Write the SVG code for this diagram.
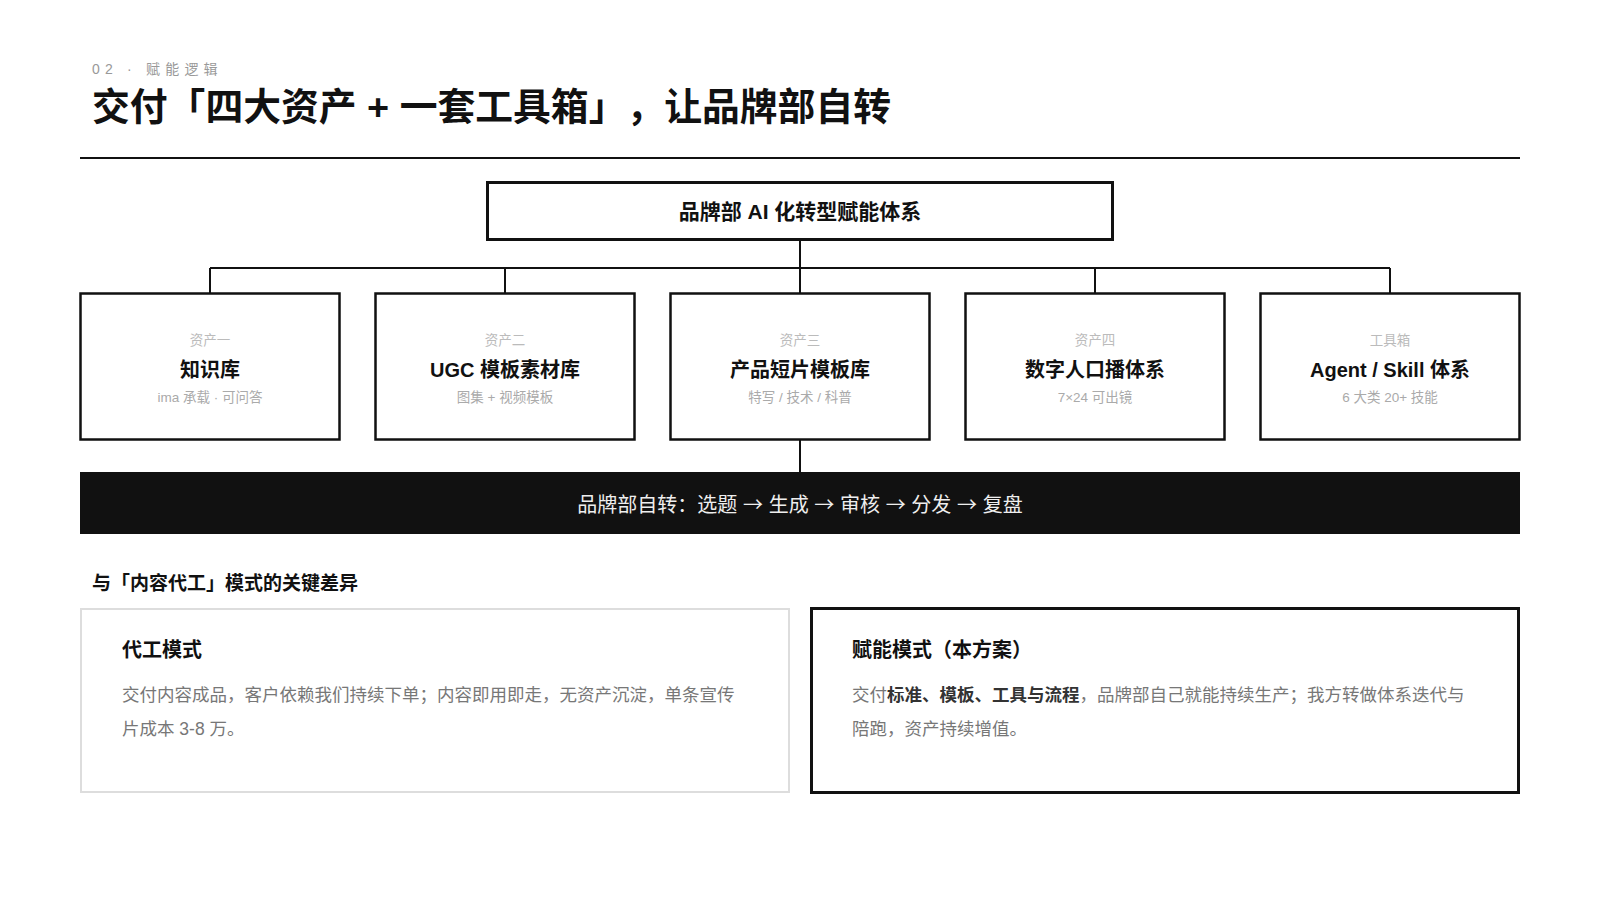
<svg xmlns="http://www.w3.org/2000/svg" width="1600" height="900" viewBox="0 0 1600 900">
<style>
text{font-family:"Liberation Sans","Noto Sans CJK SC",sans-serif;text-spacing-trim:space-all;}
.kicker{font-size:14px;fill:#999;letter-spacing:5.2px;}
.title{font-size:37.8px;font-weight:bold;fill:#111;}
.box{fill:#fff;stroke:#111;stroke-width:2.5;}
.lbl{font-size:13.5px;fill:#bbb;text-anchor:middle;}
.name{font-size:20px;font-weight:bold;fill:#111;text-anchor:middle;}
.sub{font-size:13.5px;fill:#aaa;text-anchor:middle;}
.conn{stroke:#111;stroke-width:2;fill:none;}
.h2{font-size:19px;font-weight:bold;fill:#111;}
.ct{font-size:20px;font-weight:bold;fill:#111;}
.body{font-size:17.5px;fill:#777;}
.b{font-weight:bold;fill:#333;}
</style>
<rect width="1600" height="900" fill="#fff"/>
<g id="header">
<text class="kicker" x="92" y="74">02 · 赋能逻辑</text>
<text class="title" x="92" y="120">交付「四大资产 + 一套工具箱」，让品牌部自转</text>
<line x1="80" y1="158" x2="1520" y2="158" stroke="#111" stroke-width="2"/>
</g>
<g id="connectors">
<path class="conn" d="M800 240V268M210 268H1390M210 268V293M505 268V293M800 268V293M1095 268V293M1390 268V293M800 440V472"/>
</g>
<g id="root">
<rect x="487.5" y="182.5" width="625" height="57" fill="#fff" stroke="#111" stroke-width="3"/>
<text x="800" y="219" font-size="21" font-weight="bold" fill="#111" text-anchor="middle">品牌部 AI 化转型赋能体系</text>
</g>
<g id="asset1">
<rect class="box" x="80.5" y="293.5" width="259" height="146"/>
<text class="lbl" x="210" y="345">资产一</text>
<text class="name" x="210" y="377">知识库</text>
<text class="sub" x="210" y="402">ima 承载 · 可问答</text>
</g>
<g id="asset2">
<rect class="box" x="375.5" y="293.5" width="259" height="146"/>
<text class="lbl" x="505" y="345">资产二</text>
<text class="name" x="505" y="377">UGC 模板素材库</text>
<text class="sub" x="505" y="402">图集 + 视频模板</text>
</g>
<g id="asset3">
<rect class="box" x="670.5" y="293.5" width="259" height="146"/>
<text class="lbl" x="800" y="345">资产三</text>
<text class="name" x="800" y="377">产品短片模板库</text>
<text class="sub" x="800" y="402">特写 / 技术 / 科普</text>
</g>
<g id="asset4">
<rect class="box" x="965.5" y="293.5" width="259" height="146"/>
<text class="lbl" x="1095" y="345">资产四</text>
<text class="name" x="1095" y="377">数字人口播体系</text>
<text class="sub" x="1095" y="402">7×24 可出镜</text>
</g>
<g id="toolbox">
<rect class="box" x="1260.5" y="293.5" width="259" height="146"/>
<text class="lbl" x="1390" y="345">工具箱</text>
<text class="name" x="1390" y="377">Agent / Skill 体系</text>
<text class="sub" x="1390" y="402">6 大类 20+ 技能</text>
</g>
<g id="loop">
<rect x="80" y="472" width="1440" height="62" fill="#111"/>
<text x="800" y="512" font-size="20" fill="#eee" text-anchor="middle" word-spacing="1.2" style="font-family:'Noto Sans CJK SC',sans-serif">品牌部自转：选题 → 生成 → 审核 → 分发 → 复盘</text>
</g>
<g id="compare-heading">
<text class="h2" x="92" y="590">与「内容代工」模式的关键差异</text>
</g>
<g id="card-daigong">
<rect x="81" y="609" width="708" height="183" fill="#fff" stroke="#ddd" stroke-width="2"/>
<text class="ct" x="122" y="657">代工模式</text>
<text class="body" x="122" y="701">交付内容成品，客户依赖我们持续下单；内容即用即走，无资产沉淀，单条宣传</text>
<text class="body" x="122" y="735">片成本 3-8 万。</text>
</g>
<g id="card-funeng">
<rect x="811.5" y="608.5" width="707" height="184" fill="#fff" stroke="#111" stroke-width="3"/>
<text class="ct" x="852" y="657">赋能模式（本方案）</text>
<text class="body" x="852" y="701">交付<tspan class="b">标准、模板、工具与流程</tspan>，品牌部自己就能持续生产；我方转做体系迭代与</text>
<text class="body" x="852" y="735">陪跑，资产持续增值。</text>
</g>
</svg>
